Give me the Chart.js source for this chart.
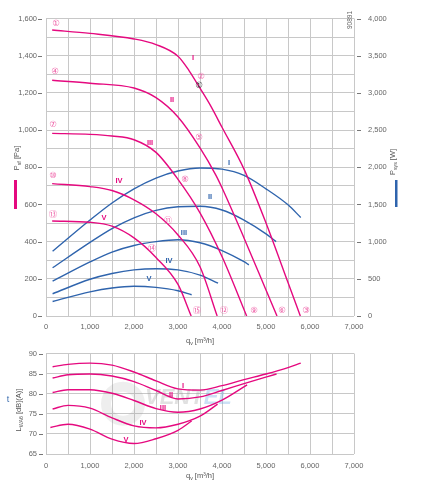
<!DOCTYPE html>
<html>
<head>
<meta charset="utf-8">
<script src="https://cdn.jsdelivr.net/npm/chart.js@4.4.1/dist/chart.umd.min.js"></script>
<style>
  body{margin:0;background:#fff;width:421px;height:484px;overflow:hidden;position:relative}
  #top{position:absolute;left:0;top:0;width:421px;height:350px}
  #bot{position:absolute;left:0;top:340px;width:421px;height:144px}
</style>
</head>
<body>
<div id="top"><canvas id="c1"></canvas></div>
<div id="bot"><canvas id="c2"></canvas></div>
<script>
// ===== pressure curves  (q in m3/h, P in Pa) =====
const qP1 = [140, 1000, 2000, 2500, 3000, 3250, 3500, 3730, 4000, 4500, 5000, 5500, 5780];
const pP1 = [1538, 1520, 1490, 1460, 1397, 1320, 1225, 1135, 1015, 790, 500, 180, 0];
const qP2 = [140, 1000, 2000, 2500, 3000, 3500, 3860, 4000, 4500, 5000, 5250];
const pP2 = [1268, 1252, 1226, 1174, 1070, 904, 758, 690, 420, 140, 0];
const qP3 = [140, 1000, 1500, 2000, 2500, 3000, 3500, 4000, 4560];
const pP3 = [982, 977, 968, 948, 880, 735, 555, 320, 0];
const qP4 = [140, 1000, 1500, 2000, 2500, 3000, 3500, 3890];
const pP4 = [712, 696, 675, 625, 550, 436, 265, 0];
const qP5 = [140, 1000, 1500, 2000, 2500, 3000, 3300];
const pP5 = [511, 504, 483, 420, 315, 170, 0];

// ===== power curves (W) =====
const qW1 = [150, 1000, 1500, 2000, 2500, 3000, 3500, 4000, 4500, 5000, 5500, 5790];
const w1  = [870, 1290, 1520, 1710, 1855, 1950, 1990, 1974, 1890, 1710, 1495, 1325];
const qW2 = [150, 1000, 1500, 2000, 2500, 3000, 3500, 4000, 4500, 5000, 5230];
const w2  = [649, 990, 1175, 1320, 1420, 1468, 1475, 1425, 1290, 1105, 1000];
const qW3 = [150, 1000, 1500, 2000, 2500, 3000, 3500, 4000, 4500, 4610];
const w3  = [468, 727, 860, 948, 1000, 1026, 985, 880, 730, 688];
const qW4 = [150, 1000, 1500, 2000, 2500, 3000, 3500, 3910];
const w4  = [299, 494, 571, 620, 636, 620, 550, 441];
const qW5 = [150, 1000, 1500, 2000, 2500, 3000, 3310];
const w5  = [195, 325, 377, 400, 385, 340, 286];

// ===== sound power (dB(A)) =====
const qL1 = [150, 500, 1000, 1500, 2000, 2500, 3000, 3500, 4000, 4500, 5000, 5500, 5790];
const L1  = [86.7, 87.3, 87.6, 87.1, 85.4, 83.2, 81.2, 80.9, 82.0, 83.5, 84.9, 86.5, 87.6];
const qL2 = [150, 500, 1000, 1500, 2000, 2500, 3000, 3500, 4000, 4500, 5240];
const L2  = [83.9, 84.7, 84.9, 84.4, 83.0, 80.8, 78.7, 79.2, 80.8, 82.5, 84.9];
const qL3 = [150, 500, 1000, 1500, 2000, 2500, 3000, 3500, 4000, 4570];
const L3  = [80.3, 81.0, 81.0, 80.1, 78.3, 76.3, 75.4, 76.2, 78.4, 82.2];
const qL4 = [150, 500, 1000, 1500, 2000, 2500, 3000, 3500, 3900];
const L4  = [76.2, 77.1, 76.4, 74.0, 72.0, 71.5, 72.4, 74.4, 77.4];
const qL5 = [100, 500, 1000, 1500, 2000, 2500, 3000, 3310];
const L5  = [71.6, 72.4, 71.2, 68.7, 67.6, 68.8, 70.9, 73.2];

// ===== labels =====
const circleText = ['①','②','③','④','⑤','⑥','⑦','⑧','⑨','⑩','⑪','⑫','⑬','⑭','⑮'];
const circleQ = [227, 3523, 5909, 205, 3477, 5364, 159, 3159, 4727, 159, 2773, 4045, 159, 2409, 3432];
const circleP = [1569, 1288, 26, 1314, 961, 26, 1029, 732, 26, 753, 514, 26, 545, 364, 26];
const romans = ['I','II','III','IV','V'];
const romanPQ = [3341, 2864, 2364, 1659, 1318];
const romanPP = [1390, 1160, 930, 727, 525];
const romanWQ = [4159, 3727, 3136, 2795, 2341];
const romanWW = [2052, 1597, 1117, 740, 494];
const romanLQ = [3114, 2841, 2659, 2205, 1818];
const romanLL = [82.0, 79.6, 76.4, 72.7, 68.6];

const MAG = '#e5097f';
const BLUE = '#2f64ad';
const GRID = '#c8c8c8';
const TXT = '#666';
const FAM = "'Liberation Sans', Arial, sans-serif";
const TICK_FONT = {family: FAM, size: 7.5};
const fmt = v => v.toLocaleString('en-US');

function pts(qs, vs){ return qs.map((q,i)=>({x:q, y:vs[i]})); }
function curve(qs, vs, color, axis){
  return {data: pts(qs,vs), borderColor: color, borderWidth: 1.4, pointRadius: 0,
          fill: false, cubicInterpolationMode: 'monotone', yAxisID: axis};
}

// text with subscript parts, optional rotation
function subText(ctx, x, y, parts, rot, size, color){
  ctx.save();
  ctx.translate(x, y);
  ctx.rotate(rot || 0);
  ctx.fillStyle = color;
  ctx.textBaseline = 'middle';
  ctx.textAlign = 'left';
  const f = s => s + 'px ' + FAM;
  let w = 0;
  parts.forEach(([t,sub]) => { ctx.font = f(sub ? size*0.7 : size); w += ctx.measureText(t).width; });
  let cx = -w/2;
  parts.forEach(([t,sub]) => {
    ctx.font = f(sub ? size*0.7 : size);
    ctx.fillText(t, cx, sub ? size*0.35 : 0);
    cx += ctx.measureText(t).width;
  });
  ctx.restore();
}

function dashes(ctx, scale, x1, x2, every){
  ctx.save();
  ctx.strokeStyle = '#777';
  ctx.lineWidth = 1;
  scale.ticks.forEach(t => {
    if (t.value % every !== 0) return;
    const y = Math.round(scale.getPixelForValue(t.value)) + 0.5;
    ctx.beginPath(); ctx.moveTo(x1, y); ctx.lineTo(x2, y); ctx.stroke();
  });
  ctx.restore();
}

function label(ctx, txt, x, y, font, color){
  ctx.save();
  ctx.font = font; ctx.fillStyle = color;
  ctx.textAlign = 'center'; ctx.textBaseline = 'middle';
  ctx.fillText(txt, x, y);
  ctx.restore();
}

// ===============================
// top chart extras
// ===============================
const topExtras = {
  id: 'topExtras',
  afterDraw(chart){
    const ctx = chart.ctx;
    const {x, y, yW} = chart.scales;

    subText(ctx, 17, 158, [['P'],['sf',1],[' [Pa]']], -Math.PI/2, 7.5, '#555');
    ctx.fillStyle = MAG; ctx.fillRect(14, 180, 3, 29);
    subText(ctx, 393, 162, [['P'],['sys',1],[' [W]']], -Math.PI/2, 7.5, '#555');
    ctx.fillStyle = BLUE; ctx.fillRect(395, 180, 2.5, 27);
    subText(ctx, 200, 341, [['q'],['v',1],[' [m³/h]']], 0, 7.5, '#555');
    subText(ctx, 350, 20, [['90891']], -Math.PI/2, 6.5, TXT);

    dashes(ctx, y, 38, 42, 200);
    dashes(ctx, yW, 357, 361, 500);

    const cf = "8.5px 'DejaVu Sans', 'Noto Sans CJK JP', sans-serif";
    circleText.forEach((t,i) => {
      label(ctx, t, x.getPixelForValue(circleQ[i]), y.getPixelForValue(circleP[i]), cf, '#ee5ea6');
    });
    label(ctx, '①', x.getPixelForValue(3477), y.getPixelForValue(1236), cf, '#333');

    const rf = 'bold 7.5px ' + FAM;
    romans.forEach((r,i) => {
      label(ctx, r, x.getPixelForValue(romanPQ[i]), y.getPixelForValue(romanPP[i]), rf, MAG);
      label(ctx, r, x.getPixelForValue(romanWQ[i]), yW.getPixelForValue(romanWW[i]), rf, BLUE);
    });
  }
};

// ===============================
// bottom chart extras
// ===============================
const botExtras = {
  id: 'botExtras',
  beforeDatasetsDraw(chart){
    const ctx = chart.ctx;
    const {x, y} = chart.scales;
    // faint watermark
    ctx.save();
    ctx.strokeStyle = 'rgba(150,150,150,0.16)';
    ctx.lineWidth = 10;
    ctx.beginPath();
    ctx.arc(x.getPixelForValue(1750), y.getPixelForValue(77.5), 17, 0, Math.PI*2);
    ctx.stroke();
    ctx.font = "italic bold 22px " + FAM;
    ctx.textBaseline = 'middle';
    ctx.fillStyle = 'rgba(140,140,140,0.26)';
    ctx.fillText('VENT', x.getPixelForValue(2250), y.getPixelForValue(79));
    const w = ctx.measureText('VENT').width;
    ctx.fillStyle = 'rgba(110,170,225,0.35)';
    ctx.fillText('EL', x.getPixelForValue(2250) + w, y.getPixelForValue(79));
    ctx.restore();
  },
  afterDraw(chart){
    const ctx = chart.ctx;
    const {x, y} = chart.scales;
    subText(ctx, 19, 70, [['L'],['WA6',1],[' [dB](A)]']], -Math.PI/2, 7.5, '#555');
    subText(ctx, 200, 136, [['q'],['v',1],[' [m³/h]']], 0, 7.5, '#555');
    subText(ctx, 8, 60, [['t']], 0, 9, '#3d6fb0');
    dashes(ctx, y, 39, 43, 5);
    const rf = 'bold 7.5px ' + FAM;
    romans.forEach((r,i) => {
      label(ctx, r, x.getPixelForValue(romanLQ[i]), y.getPixelForValue(romanLL[i]), rf, MAG);
    });
  }
};

function xScale(h, pad){
  return {
    type: 'linear', min: 0, max: 7000,
    ticks: {stepSize: 500, autoSkip: false, maxRotation: 0, padding: pad, color: TXT, font: TICK_FONT,
            callback: v => v % 1000 === 0 ? fmt(v) : ''},
    grid: {color: GRID, drawTicks: false},
    border: {display: false},
    afterFit: s => { s.height = h; }
  };
}

new Chart(document.getElementById('c1'), {
  type: 'line',
  data: {datasets: [
    curve(qP1, pP1, MAG, 'y'), curve(qP2, pP2, MAG, 'y'), curve(qP3, pP3, MAG, 'y'),
    curve(qP4, pP4, MAG, 'y'), curve(qP5, pP5, MAG, 'y'),
    curve(qW1, w1, BLUE, 'yW'), curve(qW2, w2, BLUE, 'yW'), curve(qW3, w3, BLUE, 'yW'),
    curve(qW4, w4, BLUE, 'yW'), curve(qW5, w5, BLUE, 'yW')
  ]},
  options: {
    responsive: true, maintainAspectRatio: false, animation: false,
    layout: {padding: {top: 8}},
    plugins: {legend: {display: false}, tooltip: {enabled: false}},
    scales: {
      x: xScale(34, 6),
      y: {position: 'left', min: 0, max: 1600,
          ticks: {stepSize: 100, padding: 9, color: TXT, font: TICK_FONT,
                  callback: v => v % 200 === 0 ? fmt(v) : ''},
          grid: {color: GRID, drawTicks: false}, border: {display: false},
          afterFit: s => { s.width = 46; }},
      yW: {position: 'right', min: 0, max: 4000,
           ticks: {stepSize: 500, padding: 14, color: TXT, font: TICK_FONT, callback: v => fmt(v)},
           grid: {display: false, drawTicks: false}, border: {display: false},
           afterFit: s => { s.width = 67; }}
    }
  },
  plugins: [topExtras]
});

new Chart(document.getElementById('c2'), {
  type: 'line',
  data: {datasets: [
    curve(qL1, L1, MAG, 'y'), curve(qL2, L2, MAG, 'y'), curve(qL3, L3, MAG, 'y'),
    curve(qL4, L4, MAG, 'y'), curve(qL5, L5, MAG, 'y')
  ]},
  options: {
    responsive: true, maintainAspectRatio: false, animation: false,
    layout: {padding: {top: 11, right: 67}},
    plugins: {legend: {display: false}, tooltip: {enabled: false}},
    scales: {
      x: xScale(30, 7.5),
      y: {position: 'left', min: 65, max: 90,
          ticks: {stepSize: 5, padding: 9, color: TXT, font: TICK_FONT},
          grid: {color: GRID, drawTicks: false}, border: {display: false},
          afterFit: s => { s.width = 46; }}
    }
  },
  plugins: [botExtras]
});
</script>
</body>
</html>
